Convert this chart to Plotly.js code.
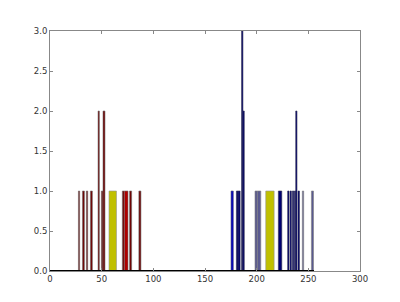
<!DOCTYPE html>
<html><head><meta charset="utf-8">
<script src="https://cdn.plot.ly/plotly-3.0.1.min.js"></script>
<style>html,body{margin:0;padding:0;background:#fff}#chart{width:400px;height:302px}</style>
</head><body><div id="chart"></div>
<script>
// histogram bins: left edge, width, count
const maroonLeft  = [27.5, 31.4, 35.2, 39.1, 46.5, 49.7, 51.3, 70.0, 77.0, 86.0];
const maroonWidth = [1.2, 1.9, 1.3, 1.9, 1.3, 1.6, 1.9, 2.0, 2.0, 2.0];
const maroonCount = [1, 1, 1, 1, 2, 1, 2, 1, 1, 1];

const redLeft  = [72.0];
const redWidth = [3.5];
const redCount = [1];

const yellowLeft  = [57.1, 208.8];
const yellowWidth = [7.2, 8.1];
const yellowCount = [1, 1];

const blueLeft  = [175.2];
const blueWidth = [2.2];
const blueCount = [1];

const navyLeft  = [180.4, 182.0, 185.4, 186.7, 221.0, 230.0, 232.3, 234.6, 236.5, 237.8, 240.0];
const navyWidth = [1.6, 2.0, 1.3, 1.3, 3.3, 1.3, 1.3, 1.3, 1.3, 1.2, 1.4];
const navyCount = [1, 1, 3, 2, 1, 1, 1, 1, 1, 2, 1];

const slateLeft  = [198.4, 200.7, 244.2, 253.0];
const slateWidth = [2.3, 3.3, 1.3, 2.0];
const slateCount = [1, 1, 1, 1];

const zeroSpan = [0, 255.5];

const xTicks = [0, 50, 100, 150, 200, 250, 300];
const yTicks = [0, 0.5, 1, 1.5, 2, 2.5, 3];
const yTickText = ['0.0', '0.5', '1.0', '1.5', '2.0', '2.5', '3.0'];

function barTrace(left, width, count, color, edge) {
  return {
    type: 'bar',
    x: left.map((l, i) => l + width[i] / 2),
    y: count,
    width: width,
    marker: {color: color, line: {color: edge, width: 0.6}},
    hoverinfo: 'skip',
    showlegend: false
  };
}

const data = [
  {type: 'scatter', mode: 'lines', x: zeroSpan, y: [0, 0], line: {color: '#000', width: 2}, showlegend: false, hoverinfo: 'skip'},
  barTrace(maroonLeft, maroonWidth, maroonCount, '#700000', '#707070'),
  barTrace(redLeft, redWidth, redCount, '#b00000', '#707070'),
  barTrace(yellowLeft, yellowWidth, yellowCount, '#c0c000', '#909090'),
  barTrace(blueLeft, blueWidth, blueCount, '#0000c0', '#505070'),
  barTrace(navyLeft, navyWidth, navyCount, '#000070', '#303050'),
  barTrace(slateLeft, slateWidth, slateCount, '#5a5a90', '#808080')
];

const axisCommon = {
  showgrid: false, zeroline: false, showline: true, mirror: 'ticks',
  linecolor: '#888', linewidth: 1,
  ticks: 'inside', ticklen: 3, tickcolor: '#888', tickwidth: 1,
  tickfont: {family: 'DejaVu Sans', size: 8.5, color: '#333'}
};

const layout = {
  width: 400, height: 302,
  margin: {l: 50, r: 40, t: 31, b: 31},
  paper_bgcolor: '#fff', plot_bgcolor: '#fff',
  barmode: 'overlay', bargap: 0,
  xaxis: Object.assign({}, axisCommon, {range: [0, 300], tickvals: xTicks, ticktext: xTicks.map(String)}),
  yaxis: Object.assign({}, axisCommon, {range: [0, 3], tickvals: yTicks, ticktext: yTickText})
};

Plotly.newPlot('chart', data, layout, {displayModeBar: false, staticPlot: true});
</script></body></html>
